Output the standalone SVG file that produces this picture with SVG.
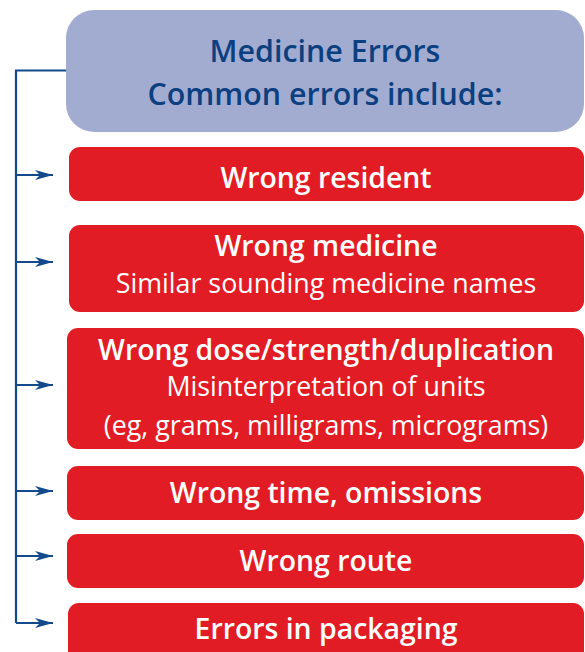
<svg xmlns="http://www.w3.org/2000/svg" width="585" height="652" viewBox="0 0 585 652">
<style>
.hd{fill:#a2acd0}
.rb{fill:#e21c24}
.ht{font-family:"Open Sans","Noto Sans",sans-serif;font-weight:600;font-size:30.4px;fill:#0b3f80;text-anchor:middle}
.bt{font-family:"Open Sans","Noto Sans",sans-serif;font-weight:600;font-size:28.4px;fill:#fff;text-anchor:middle}
.st{font-family:"Open Sans","Noto Sans",sans-serif;font-weight:400;font-size:26.8px;fill:#fff;text-anchor:middle}
.cn{fill:none;stroke:#134a8c;stroke-width:2.2}
</style>
<defs>
<marker id="ah" markerWidth="20" markerHeight="10" refX="18" refY="5" orient="auto" markerUnits="userSpaceOnUse">
<path d="M0,0 L18,5 L0,10 L5,5 Z" fill="#134a8c"/>
</marker>
</defs>
<g id="header">
<rect class="hd" x="66" y="10" width="518" height="122" rx="28"/>
<text class="ht" x="325" y="62">Medicine Errors</text>
<text class="ht" x="325" y="105">Common errors include:</text>
</g>
<g id="n1">
<rect class="rb" x="69" y="147" width="515" height="54" rx="11"/>
<text class="bt" x="326" y="188">Wrong resident</text>
</g>
<g id="n2">
<rect class="rb" x="69" y="225" width="515" height="87" rx="11"/>
<text class="bt" x="326" y="256">Wrong medicine</text>
<text class="st" x="326" y="293">Similar sounding medicine names</text>
</g>
<g id="n3">
<rect class="rb" x="67" y="328" width="517" height="121" rx="11"/>
<text class="bt" x="326" y="360">Wrong dose/strength/duplication</text>
<text class="st" x="326" y="396">Misinterpretation of units</text>
<text class="st" x="326" y="435">(eg, grams, milligrams, micrograms)</text>
</g>
<g id="n4">
<rect class="rb" x="67" y="466" width="517" height="54" rx="11"/>
<text class="bt" x="326" y="503">Wrong time, omissions</text>
</g>
<g id="n5">
<rect class="rb" x="67" y="534" width="517" height="54" rx="11"/>
<text class="bt" x="326" y="571">Wrong route</text>
</g>
<g id="n6">
<rect class="rb" x="68" y="603" width="516" height="60" rx="11"/>
<text class="bt" x="326" y="639">Errors in packaging</text>
</g>
<g id="connectors">
<path class="cn" d="M66,70.5 H16 V623"/>
<path class="cn" d="M16,175 H53" marker-end="url(#ah)"/>
<path class="cn" d="M16,262 H53" marker-end="url(#ah)"/>
<path class="cn" d="M16,385 H53" marker-end="url(#ah)"/>
<path class="cn" d="M16,491 H53" marker-end="url(#ah)"/>
<path class="cn" d="M16,556 H53" marker-end="url(#ah)"/>
<path class="cn" d="M16,623 H53" marker-end="url(#ah)"/>
</g>
</svg>
